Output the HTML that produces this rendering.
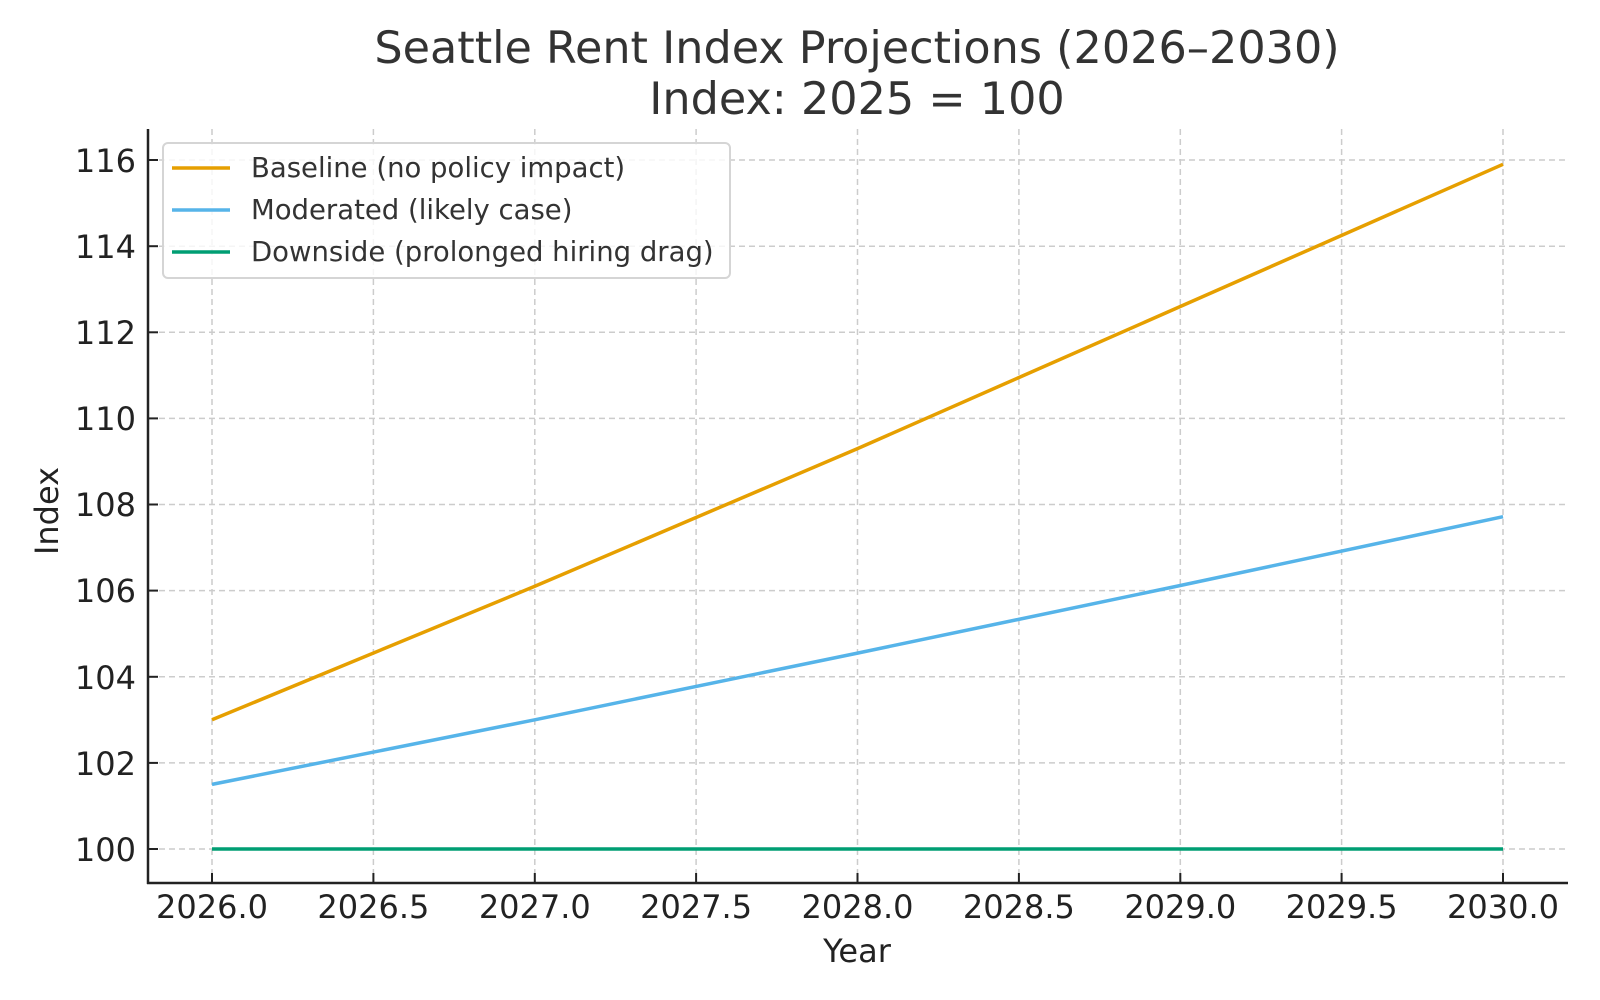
<!DOCTYPE html>
<html><head><meta charset="utf-8"><style>html,body{margin:0;padding:0;background:#fff}svg{display:block}</style></head><body>
<svg width="1600" height="1000" xmlns="http://www.w3.org/2000/svg" font-family="DejaVu Sans, Liberation Sans, sans-serif">
<rect width="1600" height="1000" fill="#fff"/>
<g stroke="#cccccc" stroke-width="1.5" stroke-dasharray="6,4">
<line x1="212" y1="129" x2="212" y2="883"/><line x1="373.4" y1="129" x2="373.4" y2="883"/><line x1="534.8" y1="129" x2="534.8" y2="883"/><line x1="696.1" y1="129" x2="696.1" y2="883"/><line x1="857.5" y1="129" x2="857.5" y2="883"/><line x1="1018.9" y1="129" x2="1018.9" y2="883"/><line x1="1180.3" y1="129" x2="1180.3" y2="883"/><line x1="1341.6" y1="129" x2="1341.6" y2="883"/><line x1="1503" y1="129" x2="1503" y2="883"/>
<line x1="149" y1="849" x2="1568" y2="849"/><line x1="149" y1="762.9" x2="1568" y2="762.9"/><line x1="149" y1="676.8" x2="1568" y2="676.8"/><line x1="149" y1="590.6" x2="1568" y2="590.6"/><line x1="149" y1="504.5" x2="1568" y2="504.5"/><line x1="149" y1="418.4" x2="1568" y2="418.4"/><line x1="149" y1="332.3" x2="1568" y2="332.3"/><line x1="149" y1="246.2" x2="1568" y2="246.2"/><line x1="149" y1="160" x2="1568" y2="160"/>
</g>
<g fill="none" stroke-width="3.5" stroke-linejoin="round">
<polyline stroke="#E69F00" points="212,719.8 534.8,586.3 857.5,448.6 1180.3,306.5 1503,164.3"/>
<polyline stroke="#56B4E9" points="212,784.4 534.8,719.8 857.5,653.1 1180.3,585.5 1503,516.7"/>
<polyline stroke="#009E73" points="212,849 1503,849"/>
</g>
<g stroke="#222" stroke-width="2.5">
<line x1="148" y1="129" x2="148" y2="884"/><line x1="147" y1="883" x2="1568" y2="883"/>
</g>
<g stroke="#222" stroke-width="2">
<line x1="148" y1="849" x2="158" y2="849"/><line x1="148" y1="762.9" x2="158" y2="762.9"/><line x1="148" y1="676.8" x2="158" y2="676.8"/><line x1="148" y1="590.6" x2="158" y2="590.6"/><line x1="148" y1="504.5" x2="158" y2="504.5"/><line x1="148" y1="418.4" x2="158" y2="418.4"/><line x1="148" y1="332.3" x2="158" y2="332.3"/><line x1="148" y1="246.2" x2="158" y2="246.2"/><line x1="148" y1="160" x2="158" y2="160"/>
<line x1="212" y1="873" x2="212" y2="883"/><line x1="373.4" y1="873" x2="373.4" y2="883"/><line x1="534.8" y1="873" x2="534.8" y2="883"/><line x1="696.1" y1="873" x2="696.1" y2="883"/><line x1="857.5" y1="873" x2="857.5" y2="883"/><line x1="1018.9" y1="873" x2="1018.9" y2="883"/><line x1="1180.3" y1="873" x2="1180.3" y2="883"/><line x1="1341.6" y1="873" x2="1341.6" y2="883"/><line x1="1503" y1="873" x2="1503" y2="883"/>
</g>
<g font-size="32" fill="#222" text-anchor="end">
<text x="136" y="861">100</text><text x="136" y="775">102</text><text x="136" y="689">104</text><text x="136" y="602">106</text><text x="136" y="516">108</text><text x="136" y="430">110</text><text x="136" y="344">112</text><text x="136" y="258">114</text><text x="136" y="172">116</text>
</g>
<g font-size="32" fill="#222" text-anchor="middle">
<text x="212" y="918">2026.0</text><text x="373.4" y="918">2026.5</text><text x="534.8" y="918">2027.0</text><text x="696.1" y="918">2027.5</text><text x="857.5" y="918">2028.0</text><text x="1018.9" y="918">2028.5</text><text x="1180.3" y="918">2029.0</text><text x="1341.6" y="918">2029.5</text><text x="1503" y="918">2030.0</text>
<text x="857" y="962">Year</text>
<text transform="translate(58,511) rotate(-90)">Index</text>
</g>
<g font-size="44.5" fill="#333" text-anchor="middle">
<text x="857" y="63">Seattle Rent Index Projections (2026–2030)</text>
<text x="857" y="114">Index: 2025 = 100</text>
</g>
<rect x="163" y="143" width="567" height="135" rx="5" fill="#fff" fill-opacity="0.8" stroke="#d5d5d5" stroke-width="2"/>
<g stroke-width="3.5">
<line x1="172" y1="168" x2="230" y2="168" stroke="#E69F00"/>
<line x1="172" y1="210" x2="230" y2="210" stroke="#56B4E9"/>
<line x1="172" y1="252" x2="230" y2="252" stroke="#009E73"/>
</g>
<g font-size="27.5" fill="#333">
<text x="251" y="177">Baseline (no policy impact)</text>
<text x="251" y="219">Moderated (likely case)</text>
<text x="251" y="261">Downside (prolonged hiring drag)</text>
</g>
</svg>
</body></html>
